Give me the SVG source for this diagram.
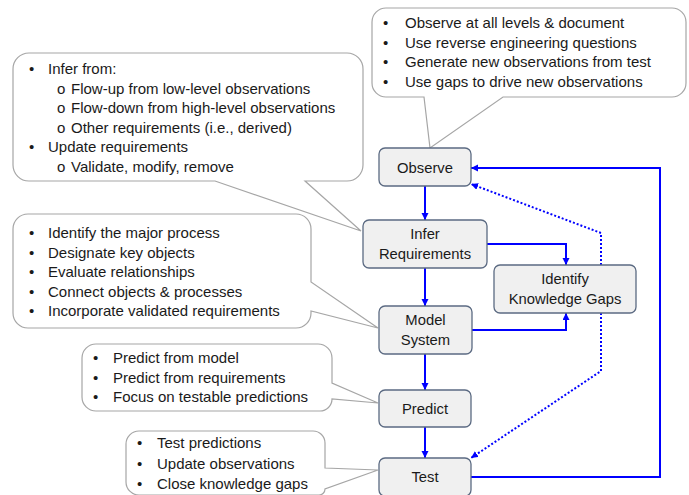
<svg xmlns="http://www.w3.org/2000/svg" width="689" height="495" viewBox="0 0 689 495">
<defs>
<style>
.callout{fill:#ffffff;stroke:#a6a6a6;stroke-width:1.2}
.ct{font-family:"Liberation Sans",Arial,sans-serif;font-size:15px;fill:#1a1a1a}
.node rect{fill:#f0f0f0;stroke:#5b6a82;stroke-width:1.3}
.nt{font-family:"Liberation Sans",Arial,sans-serif;font-size:14.8px;fill:#1a1a1a;text-anchor:middle}
.conn{fill:none;stroke:#0000ff;stroke-width:2}
.dot{fill:none;stroke:#0000ff;stroke-width:2;stroke-dasharray:2 2}
</style>
<marker id="ah" markerUnits="userSpaceOnUse" markerWidth="8" markerHeight="8" refX="7" refY="3.5" orient="auto">
<path d="M0,0 L7,3.5 L0,7 z" fill="#0000ff"/>
</marker>
</defs>
<rect width="689" height="495" fill="#ffffff"/>

<g id="callout-observe">
<path class="callout" d="M386,8 H672 A14,14 0 0 1 686,22 V83 A14,14 0 0 1 672,97 H503 L430,148 L424,97 H386 A14,14 0 0 1 372,83 V22 A14,14 0 0 1 386,8 Z"/>
<text class="ct"><tspan x="383" y="28">•</tspan><tspan x="405" y="28">Observe at all levels &amp; document</tspan>
<tspan x="383" y="47.5">•</tspan><tspan x="405" y="47.5">Use reverse engineering questions</tspan>
<tspan x="383" y="67">•</tspan><tspan x="405" y="67">Generate new observations from test</tspan>
<tspan x="383" y="86.5">•</tspan><tspan x="405" y="86.5">Use gaps to drive new observations</tspan></text>
</g>

<g id="callout-infer">
<path class="callout" d="M29,53 H347 A16,16 0 0 1 363,69 V165 A16,16 0 0 1 347,181 H305 L361,231 L215,181 H29 A16,16 0 0 1 13,165 V69 A16,16 0 0 1 29,53 Z"/>
<text class="ct"><tspan x="29" y="74">•</tspan><tspan x="48" y="74">Infer from:</tspan>
<tspan x="57" y="93.5">o</tspan><tspan x="71" y="93.5">Flow-up from low-level observations</tspan>
<tspan x="57" y="113">o</tspan><tspan x="71" y="113">Flow-down from high-level observations</tspan>
<tspan x="57" y="132.5">o</tspan><tspan x="71" y="132.5">Other requirements (i.e., derived)</tspan>
<tspan x="29" y="152">•</tspan><tspan x="48" y="152">Update requirements</tspan>
<tspan x="57" y="171.5">o</tspan><tspan x="71" y="171.5">Validate, modify, remove</tspan></text>
</g>

<g id="callout-model">
<path class="callout" d="M28,214 H296 A15,15 0 0 1 311,229 V282 L378,328 L311,311 V313 A15,15 0 0 1 296,328 H28 A15,15 0 0 1 13,313 V229 A15,15 0 0 1 28,214 Z"/>
<text class="ct"><tspan x="29" y="238">•</tspan><tspan x="48" y="238">Identify the major process</tspan>
<tspan x="29" y="257.5">•</tspan><tspan x="48" y="257.5">Designate key objects</tspan>
<tspan x="29" y="277">•</tspan><tspan x="48" y="277">Evaluate relationships</tspan>
<tspan x="29" y="296.5">•</tspan><tspan x="48" y="296.5">Connect objects &amp; processes</tspan>
<tspan x="29" y="316">•</tspan><tspan x="48" y="316">Incorporate validated requirements</tspan></text>
</g>

<g id="callout-predict">
<path class="callout" d="M96,344 H318 A14,14 0 0 1 332,358 V383 L378,403 L332,399 A12,12 0 0 1 320,411 H96 A14,14 0 0 1 82,397 V358 A14,14 0 0 1 96,344 Z"/>
<text class="ct"><tspan x="93" y="363">•</tspan><tspan x="113" y="363">Predict from model</tspan>
<tspan x="93" y="382.5">•</tspan><tspan x="113" y="382.5">Predict from requirements</tspan>
<tspan x="93" y="402">•</tspan><tspan x="113" y="402">Focus on testable predictions</tspan></text>
</g>

<g id="callout-test">
<path class="callout" d="M139,431 H313 A12,12 0 0 1 325,443 V468 L378,470 L325,489 A6,6 0 0 1 319,495 H139 A13,13 0 0 1 126,482 V444 A13,13 0 0 1 139,431 Z"/>
<text class="ct"><tspan x="137" y="448">•</tspan><tspan x="157" y="448">Test predictions</tspan>
<tspan x="137" y="468.5">•</tspan><tspan x="157" y="468.5">Update observations</tspan>
<tspan x="137" y="489">•</tspan><tspan x="157" y="489">Close knowledge gaps</tspan></text>
</g>

<g id="connectors">
<path class="conn" d="M425,186 V220" marker-end="url(#ah)"/>
<path class="conn" d="M425,268 V306" marker-end="url(#ah)"/>
<path class="conn" d="M425,354 V390" marker-end="url(#ah)"/>
<path class="conn" d="M425,427 V458" marker-end="url(#ah)"/>
<path class="conn" d="M487,244 H566 V265" marker-end="url(#ah)"/>
<path class="conn" d="M472,330 H566 V313" marker-end="url(#ah)"/>
<path class="conn" d="M471,477 H660 V168 H471" marker-end="url(#ah)"/>
<path class="dot" d="M601,265 V233 L471,184" marker-end="url(#ah)"/>
<path class="dot" d="M601,313 V371 L471,458" marker-end="url(#ah)"/>
</g>

<g id="node-observe" class="node">
<rect x="379" y="148" width="92" height="38" rx="6"/>
<text class="nt" x="425" y="173">Observe</text>
</g>
<g id="node-infer" class="node">
<rect x="363" y="220" width="124" height="48" rx="6"/>
<text class="nt" x="425" y="239">Infer</text>
<text class="nt" x="425" y="258.5">Requirements</text>
</g>
<g id="node-gaps" class="node">
<rect x="494" y="265" width="142" height="48" rx="6"/>
<text class="nt" x="565" y="284">Identify</text>
<text class="nt" x="565" y="303.5">Knowledge Gaps</text>
</g>
<g id="node-model" class="node">
<rect x="379" y="306" width="93" height="48" rx="6"/>
<text class="nt" x="425.5" y="325">Model</text>
<text class="nt" x="425.5" y="344.5">System</text>
</g>
<g id="node-predict" class="node">
<rect x="379" y="390" width="92" height="37" rx="6"/>
<text class="nt" x="425" y="413.5">Predict</text>
</g>
<g id="node-test" class="node">
<rect x="379" y="458" width="92" height="38" rx="6"/>
<text class="nt" x="425" y="482">Test</text>
</g>
</svg>
